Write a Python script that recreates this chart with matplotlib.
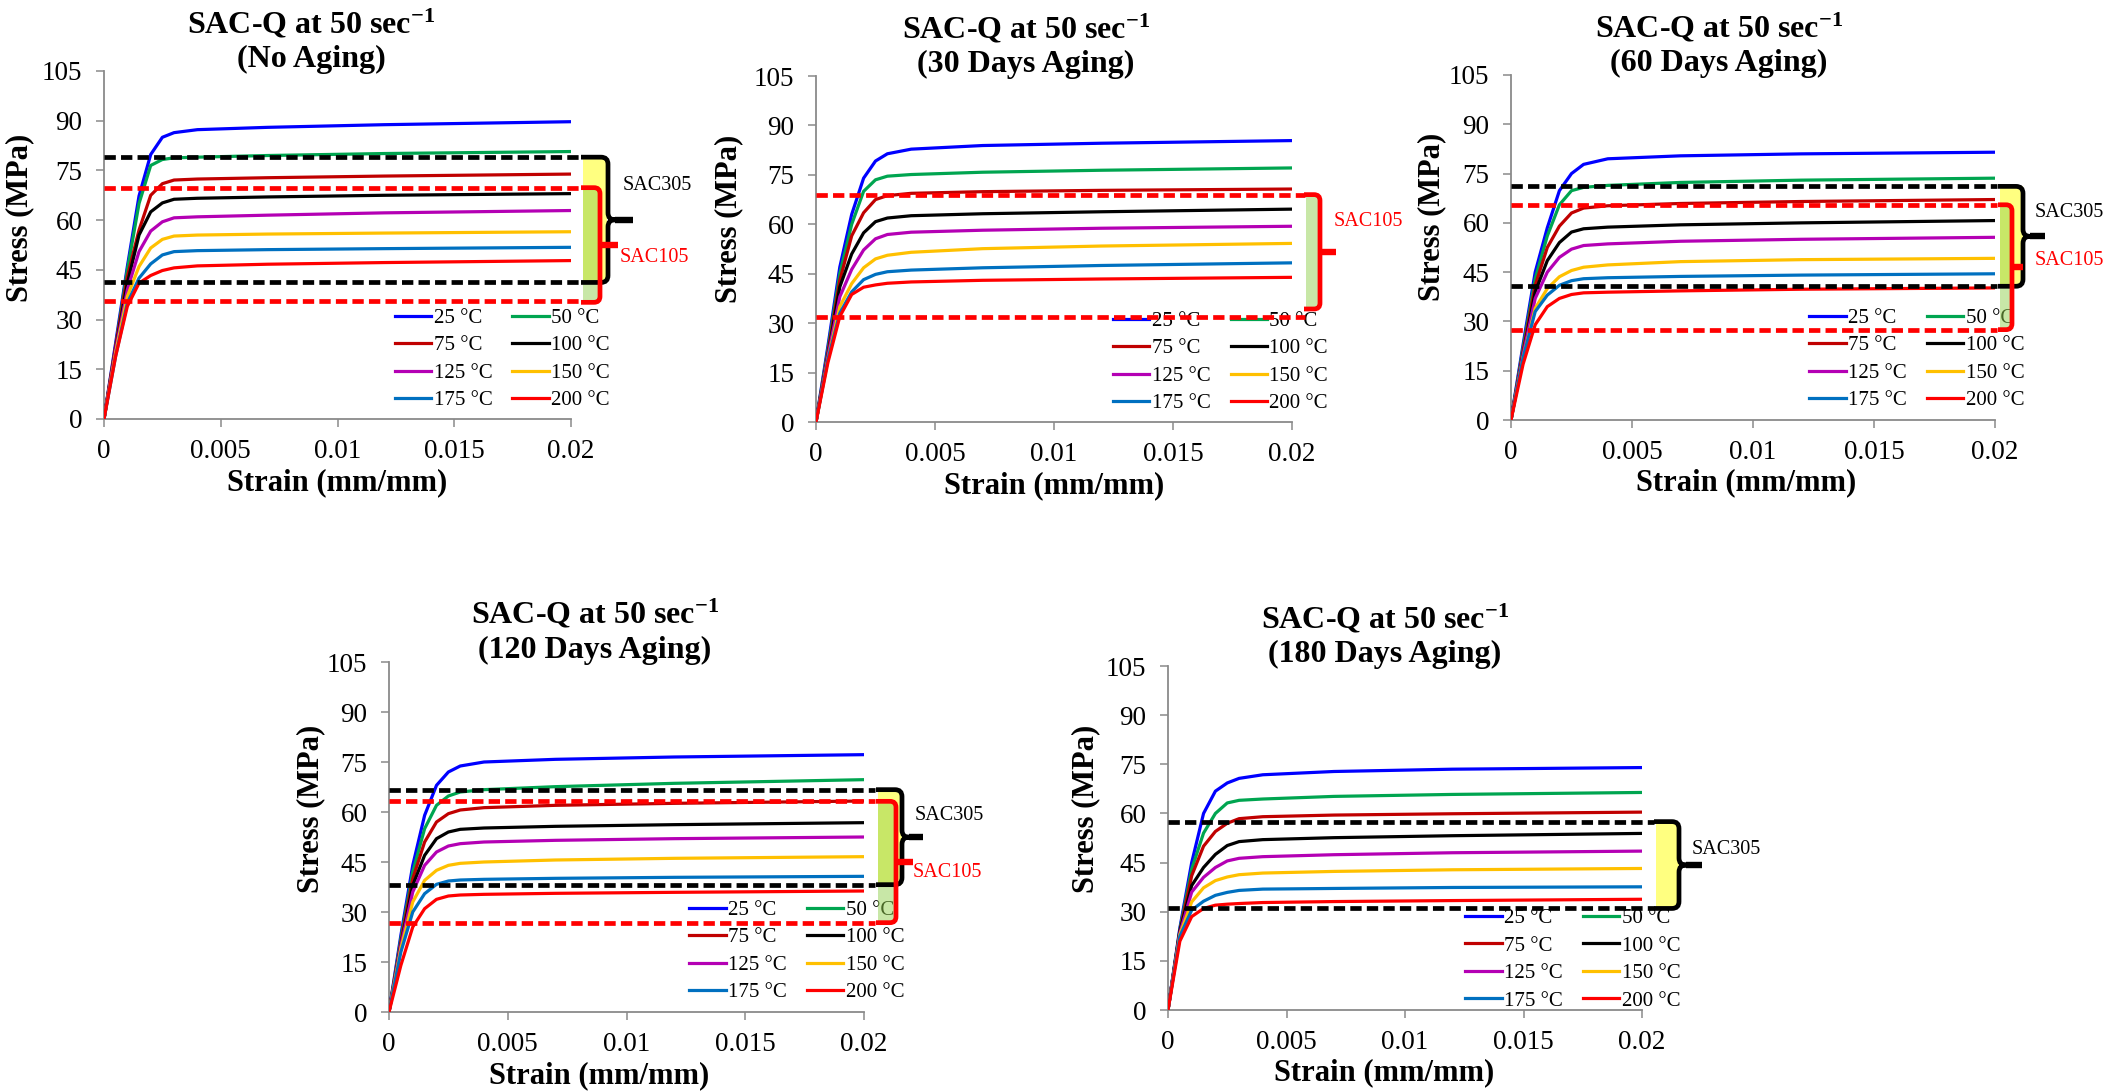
import matplotlib
matplotlib.use('Agg')
import matplotlib.pyplot as plt
from matplotlib.path import Path
from matplotlib.patches import PathPatch, Rectangle

plt.rcParams['font.family'] = ['Liberation Serif', 'DejaVu Serif']
plt.rcParams['mathtext.fontset'] = 'custom'
plt.rcParams['mathtext.rm'] = 'Liberation Serif'
plt.rcParams['mathtext.bf'] = 'Liberation Serif:bold'
plt.rcParams['mathtext.it'] = 'Liberation Serif:italic'

# ---- data ----
strain = [0, 0.0005, 0.001, 0.0015, 0.002, 0.0025, 0.003, 0.004, 0.007, 0.012, 0.02]
temps = ['25 °C', '50 °C', '75 °C', '100 °C', '125 °C', '150 °C', '175 °C', '200 °C']
colors = ['#0000FF', '#00A550', '#C00000', '#000000', '#B400B4', '#FFC000', '#0070C0', '#FF0000']
aging = ['No Aging', '30 Days Aging', '60 Days Aging', '120 Days Aging', '180 Days Aging']

stress_0d = [
    [0, 23, 46, 67.3, 79.8, 85.0, 86.4, 87.3, 88.0, 88.8, 89.7],
    [0, 22, 45, 65.0, 76.5, 78.3, 78.8, 79.0, 79.5, 80.1, 80.7],
    [0, 22, 43, 57.0, 67.5, 71.0, 72.1, 72.4, 72.8, 73.3, 73.9],
    [0, 21, 41, 55.5, 62.5, 65.2, 66.3, 66.6, 67.0, 67.5, 68.0],
    [0, 21, 39, 50.5, 56.7, 59.5, 60.7, 61.0, 61.5, 62.2, 62.9],
    [0, 20, 37, 46.0, 51.6, 54.2, 55.2, 55.5, 55.8, 56.1, 56.5],
    [0, 19, 35, 42.5, 46.8, 49.5, 50.5, 50.8, 51.1, 51.4, 51.8],
    [0, 19, 34, 41.0, 43.3, 44.8, 45.6, 46.2, 46.7, 47.2, 47.8],
]
stress_30d = [
    [0, 23, 47, 63.0, 74.0, 79.2, 81.4, 82.8, 83.9, 84.6, 85.4],
    [0, 22, 45, 60.0, 70.0, 73.5, 74.6, 75.1, 75.8, 76.4, 77.1],
    [0, 21, 43, 56.5, 63.5, 67.5, 68.7, 69.4, 69.9, 70.3, 70.7],
    [0, 20, 41, 51.0, 57.4, 60.8, 61.9, 62.6, 63.2, 63.8, 64.6],
    [0, 20, 38, 46.3, 52.2, 55.6, 56.9, 57.6, 58.2, 58.8, 59.4],
    [0, 19, 35, 42.0, 46.8, 49.5, 50.6, 51.5, 52.6, 53.4, 54.2],
    [0, 19, 33, 39.5, 43.2, 44.8, 45.6, 46.1, 46.8, 47.5, 48.3],
    [0, 18, 32, 38.7, 40.9, 41.6, 42.1, 42.5, 43.0, 43.4, 43.9],
]
stress_60d = [
    [0, 23, 45, 58.5, 69.8, 75.0, 77.8, 79.5, 80.4, 81.0, 81.5],
    [0, 22, 43, 56.0, 65.5, 69.8, 70.8, 71.4, 72.3, 73.0, 73.6],
    [0, 21, 41, 52.5, 59.0, 63.0, 64.5, 65.2, 65.9, 66.5, 67.1],
    [0, 20, 39, 48.5, 54.0, 57.2, 58.2, 58.7, 59.4, 60.0, 60.7],
    [0, 20, 37, 45.0, 49.5, 52.0, 53.1, 53.6, 54.4, 55.0, 55.6],
    [0, 19, 34, 40.0, 43.6, 45.5, 46.5, 47.2, 48.2, 48.8, 49.2],
    [0, 19, 33, 38.0, 41.0, 42.4, 43.0, 43.3, 43.7, 44.1, 44.5],
    [0, 17, 29, 34.5, 37.0, 38.2, 38.7, 38.9, 39.3, 39.8, 40.2],
]
stress_120d = [
    [0, 23, 44, 59.0, 68.0, 72.0, 73.8, 75.0, 75.8, 76.5, 77.2],
    [0, 22, 42, 55.0, 62.0, 64.8, 66.0, 66.7, 67.6, 68.6, 69.7],
    [0, 21, 40, 51.0, 57.0, 59.5, 60.6, 61.3, 62.0, 62.6, 63.3],
    [0, 20, 38, 47.0, 52.0, 54.0, 54.8, 55.2, 55.7, 56.2, 56.8],
    [0, 20, 36, 44.0, 48.0, 49.8, 50.5, 51.0, 51.5, 52.0, 52.5],
    [0, 19, 33, 39.5, 42.5, 44.0, 44.6, 45.0, 45.6, 46.1, 46.6],
    [0, 18, 30, 35.5, 38.3, 39.3, 39.6, 39.8, 40.1, 40.4, 40.7],
    [0, 14, 25.5, 31.0, 33.8, 34.8, 35.1, 35.3, 35.6, 35.9, 36.3],
]
stress_180d = [
    [0, 25, 45, 60.0, 66.8, 69.3, 70.7, 71.8, 72.8, 73.5, 74.0],
    [0, 24.5, 43, 54.0, 60.0, 63.2, 64.0, 64.4, 65.2, 65.8, 66.4],
    [0, 24, 41, 50.0, 54.5, 57.0, 58.4, 59.0, 59.5, 59.9, 60.4],
    [0, 24, 38, 43.5, 47.5, 50.2, 51.4, 52.0, 52.6, 53.2, 53.9],
    [0, 23.5, 36, 40.5, 43.5, 45.5, 46.3, 46.8, 47.4, 48.0, 48.5],
    [0, 23, 33, 37.3, 39.5, 40.6, 41.3, 41.8, 42.3, 42.8, 43.2],
    [0, 22.5, 30.5, 33.2, 35.0, 35.9, 36.5, 36.9, 37.1, 37.4, 37.6],
    [0, 21, 28.5, 31.0, 32.0, 32.3, 32.5, 32.8, 33.1, 33.4, 33.8],
]
all_stress = [stress_0d, stress_30d, stress_60d, stress_120d, stress_180d]

# SAC305 (black) and SAC105 (red) reference levels, MPa
sac305_hi = [79.0, None, 71.1, 66.7, 57.5]
sac305_lo = [41.2, None, 40.7, 38.2, 31.0]
sac105_hi = [69.8, 69.0, 65.5, 63.2, None]
sac105_lo = [35.7, 31.8, 27.5, 26.8, None]
sac105_brace_lo = [35.2, 34.3, 27.5, 26.8, None]

# ---- layout ----
W_PX, H_PX = 2107, 1091
boxes = [
    (104, 71, 571, 419),
    (816, 76, 1292, 422),
    (1511, 75, 1995, 420),
    (389, 662, 864, 1012),
    (1168, 666, 1642, 1010),
]
title_x = [0.444, 0.441, 0.430, 0.433, 0.458]
xlab_x = [0.5, 0.5, 0.485, 0.443, 0.455]
ylab_pos = [(-0.18, 0.578), (-0.183, 0.588), (-0.163, 0.588), (-0.164, 0.58), (-0.173, 0.584)]
legend_pos = [(0.623, 0.318), (0.624, 0.32), (0.616, 0.324), (0.632, 0.319), (0.627, 0.295)]
# pixel offsets to the right of the x=0.02 end of each plot
marks = [
    dict(dash=11, rect=12, yel=36, grn=29, bx=37, btip=62, rx=29, rtip=47, t305=52, t105=49),
    dict(dash=13, rect=14, grn=28, rx=28, rtip=44, t105=42),
    dict(dash=2, rect=5, yel=28, grn=17, bx=28, btip=50, rx=17, rtip=28, t305=40, t105=40),
    dict(dash=11, rect=14, yel=38, grn=31, bx=38, btip=59, rx=32, rtip=49, t305=51, t105=49),
    dict(dash=12, rect=14, yel=37, bx=37, btip=60, t305=50),
]
sac305_text_y = [70.6, None, 63.1, 58.8, 49.0]
sac105_text_y = [48.7, 60.7, 48.4, 41.9, None]

fig = plt.figure(figsize=(W_PX / 100, H_PX / 100), dpi=100)
fig.patch.set_facecolor('white')


def curly(ax, x0, bx, tip, hi, lo, rxs, rv, color, lw):
    mid = (hi + lo) / 2
    verts = [(x0, hi), (bx - rxs, hi), (bx, hi), (bx, hi - rv), (bx, mid + rv),
             (bx, mid), (bx + rxs, mid), (tip, mid), (bx + rxs, mid),
             (bx, mid), (bx, mid - rv), (bx, lo + rv), (bx, lo), (bx - rxs, lo), (x0, lo)]
    codes = [Path.MOVETO, Path.LINETO, Path.CURVE3, Path.CURVE3, Path.LINETO,
             Path.CURVE3, Path.CURVE3, Path.LINETO, Path.LINETO,
             Path.CURVE3, Path.CURVE3, Path.LINETO, Path.CURVE3, Path.CURVE3, Path.LINETO]
    ax.add_patch(PathPatch(Path(verts, codes), fill=False, edgecolor=color, lw=lw,
                           clip_on=False, zorder=8, capstyle='butt', joinstyle='miter'))
    ax.plot([bx + rxs, tip], [mid, mid], color=color, lw=lw + 1.2, clip_on=False,
            zorder=8, solid_capstyle='butt')


def square(ax, x0, bx, tip, hi, lo, rxs, rv, color, lw):
    mid = (hi + lo) / 2
    verts = [(x0, hi), (bx - rxs, hi), (bx, hi), (bx, hi - rv), (bx, lo + rv),
             (bx, lo), (bx - rxs, lo), (x0, lo)]
    codes = [Path.MOVETO, Path.LINETO, Path.CURVE3, Path.CURVE3, Path.LINETO,
             Path.CURVE3, Path.CURVE3, Path.LINETO]
    ax.add_patch(PathPatch(Path(verts, codes), fill=False, edgecolor=color, lw=lw,
                           clip_on=False, zorder=8))
    ax.plot([bx, tip], [mid, mid], color=color, lw=lw + 1.2, clip_on=False, zorder=8,
            solid_capstyle='butt')


order = [0, 2, 4, 6, 1, 3, 5, 7]

for i, (l, t, r, b) in enumerate(boxes):
    ax = fig.add_axes([l / W_PX, 1 - b / H_PX, (r - l) / W_PX, (b - t) / H_PX])
    wpx, hpx = r - l, b - t

    def xo(px):
        return 0.02 + px * 0.02 / wpx

    mpa_px = 105 / hpx

    lines = []
    for k in range(8):
        ln, = ax.plot(strain, all_stress[i][k], color=colors[k], lw=2.3, zorder=3,
                      solid_joinstyle='round')
        lines.append(ln)

    ax.set_xlim(0, 0.02)
    ax.set_ylim(0, 105)
    ax.set_xticks([0, 0.005, 0.01, 0.015, 0.02])
    ax.set_xticklabels(['0', '0.005', '0.01', '0.015', '0.02'])
    ax.set_yticks(range(0, 106, 15))
    for s in ['top', 'right']:
        ax.spines[s].set_visible(False)
    for s in ['left', 'bottom']:
        ax.spines[s].set_color('#8a8a8a')
        ax.spines[s].set_linewidth(1.3)
    ax.tick_params(axis='both', direction='out', length=5.5, width=1.1, color='#8a8a8a',
                   labelsize=19.5)
    ax.tick_params(axis='y', pad=10)
    ax.tick_params(axis='x', pad=9)

    ax.text(title_x[i], 1.109, r'SAC-Q at 50 sec$^{\mathbf{-1}}$', transform=ax.transAxes,
            ha='center', va='baseline', fontsize=23, fontweight='bold')
    ax.text(title_x[i], 1.012, '(' + aging[i] + ')', transform=ax.transAxes,
            ha='center', va='baseline', fontsize=23, fontweight='bold')
    ax.text(ylab_pos[i][0], ylab_pos[i][1], 'Stress (MPa)', transform=ax.transAxes,
            rotation=90, ha='center', va='center', fontsize=22, fontweight='bold')
    ax.text(xlab_x[i], -0.183, 'Strain (mm/mm)', transform=ax.transAxes,
            ha='center', va='center', fontsize=22, fontweight='bold')

    leg = ax.legend([lines[k] for k in order], [temps[k] for k in order], ncol=2,
                    loc='upper left', bbox_to_anchor=legend_pos[i], frameon=False,
                    fontsize=15, handlelength=1.75, handletextpad=0.12,
                    columnspacing=0.95, labelspacing=0.38, borderpad=0, borderaxespad=0)
    leg.set_zorder(4)

    m = marks[i]
    dash = dict(lw=3.4, dashes=(2.4, 1.1), clip_on=False, zorder=6)
    if sac305_hi[i] is not None:
        hi, lo = sac305_hi[i], sac305_lo[i]
        for y in (hi, lo):
            ax.plot([0, xo(m['dash'])], [y, y], color='black', **dash)
        ax.add_patch(Rectangle((xo(m['rect']), lo), xo(m['yel']) - xo(m['rect']), hi - lo,
                               facecolor='#FFFF80', edgecolor='none', clip_on=False, zorder=5))
    if sac105_hi[i] is not None:
        hi, lo = sac105_hi[i], sac105_lo[i]
        for y in (hi, lo):
            ax.plot([0, xo(m['dash'])], [y, y], color='#FF0000', **dash)
        blo = sac105_brace_lo[i]
        ax.add_patch(Rectangle((xo(m['rect']), blo), xo(m['grn']) - xo(m['rect']), hi - blo,
                               facecolor='#92D050', alpha=0.5, edgecolor='none',
                               clip_on=False, zorder=7))
    if sac305_hi[i] is not None:
        curly(ax, xo(m['rect'] - 2), xo(m['bx']), xo(m['btip']), sac305_hi[i], sac305_lo[i],
              xo(7) - 0.02, 7 * mpa_px, 'black', 3.4)
        ax.text(xo(m['t305']), sac305_text_y[i], 'SAC305', fontsize=14.5, color='black',
                ha='left', va='center', clip_on=False, zorder=9)
    if sac105_hi[i] is not None:
        square(ax, xo(m['rect'] - 2), xo(m['rx']), xo(m['rtip']), sac105_hi[i],
               sac105_brace_lo[i], xo(6) - 0.02, 6 * mpa_px, '#FF0000', 3.4)
        ax.text(xo(m['t105']), sac105_text_y[i], 'SAC105', fontsize=14.5, color='#FF0000',
                ha='left', va='center', clip_on=False, zorder=9)

fig.savefig('out.png', dpi=100, facecolor='white')
